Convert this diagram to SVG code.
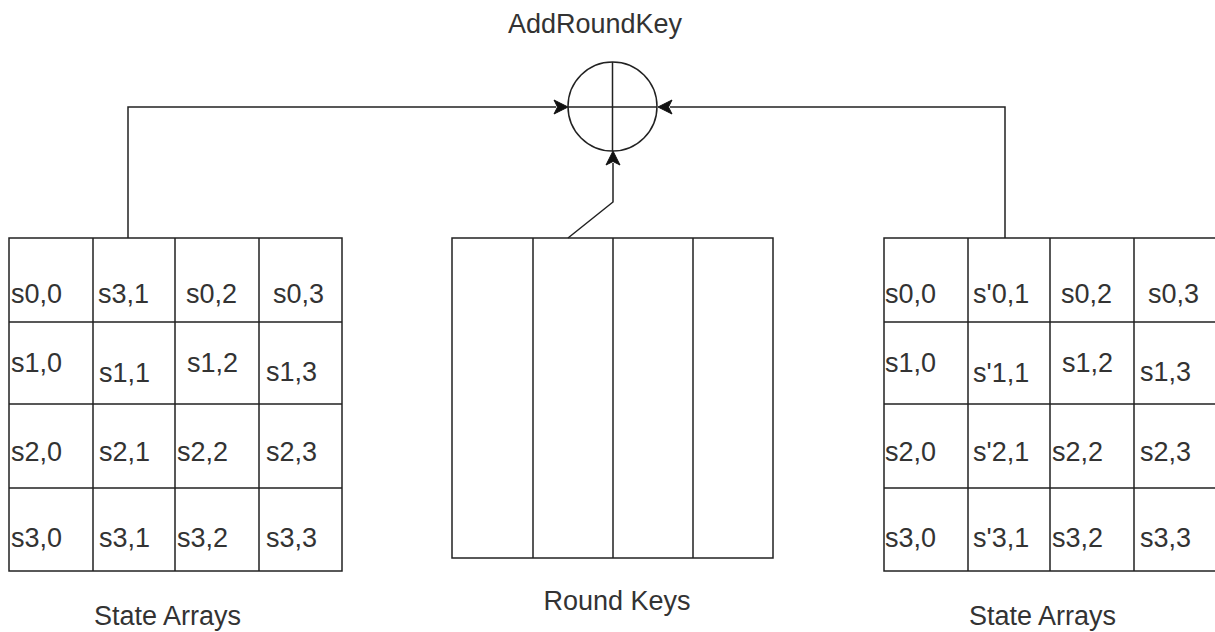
<svg xmlns="http://www.w3.org/2000/svg" width="1215" height="632" viewBox="0 0 1215 632">
<style>
.ln{fill:none;stroke:#222;stroke-width:1.5}
.ah{fill:#111;stroke:#111;stroke-width:1}
.t{font-family:"Liberation Sans",Arial,sans-serif;font-size:27px;fill:#333}
.c{text-anchor:middle}
</style>
<rect width="1215" height="632" fill="#fff"/>
<g id="connectors">
<path class="ln" d="M128,238 V107 H556"/>
<path class="ah" d="M568,107 L554,100 L557.5,107 L554,114 Z"/>
<path class="ln" d="M1005,238 V107 H670"/>
<path class="ah" d="M658,107 L672,100 L668.5,107 L672,114 Z"/>
<path class="ln" d="M568,238 L613,202 V163"/>
<path class="ah" d="M613,151 L606,165 L613,161.5 L620,165 Z"/>
</g>
<g id="addroundkey">
<circle class="ln" cx="612.5" cy="106.5" r="44.5"/>
<path class="ln" d="M612.5,62 V151 M568,107 H657"/>
<text class="t c" x="595" y="33">AddRoundKey</text>
</g>
<g id="state-left">
<rect class="ln" x="9" y="238" width="333" height="333"/>
<path class="ln" d="M93,238 V571 M175,238 V571 M259,238 V571 M9,322 H342 M9,404 H342 M9,488 H342"/>
<text class="t" x="11" y="303">s0,0</text>
<text class="t" x="98" y="303">s3,1</text>
<text class="t" x="186" y="303">s0,2</text>
<text class="t" x="273" y="303">s0,3</text>
<text class="t" x="11" y="372">s1,0</text>
<text class="t" x="99" y="382">s1,1</text>
<text class="t" x="187" y="372">s1,2</text>
<text class="t" x="266" y="381">s1,3</text>
<text class="t" x="11" y="461">s2,0</text>
<text class="t" x="99" y="461">s2,1</text>
<text class="t" x="177" y="461">s2,2</text>
<text class="t" x="266" y="461">s2,3</text>
<text class="t" x="11" y="547">s3,0</text>
<text class="t" x="99" y="547">s3,1</text>
<text class="t" x="177" y="547">s3,2</text>
<text class="t" x="266" y="547">s3,3</text>
<text class="t c" x="167.5" y="625">State Arrays</text>
</g>
<g id="round-keys">
<rect class="ln" x="452" y="238" width="321" height="320"/>
<path class="ln" d="M533,238 V558 M613,238 V558 M693,238 V558"/>
<text class="t c" x="617" y="610">Round Keys</text>
</g>
<g id="state-right">
<rect class="ln" x="884" y="238" width="333" height="333"/>
<path class="ln" d="M968,238 V571 M1050,238 V571 M1134,238 V571 M884,322 H1217 M884,404 H1217 M884,488 H1217"/>
<text class="t" x="885" y="303">s0,0</text>
<text class="t" x="973" y="303">s'0,1</text>
<text class="t" x="1061" y="303">s0,2</text>
<text class="t" x="1148" y="303">s0,3</text>
<text class="t" x="885" y="372">s1,0</text>
<text class="t" x="973" y="382">s'1,1</text>
<text class="t" x="1062" y="372">s1,2</text>
<text class="t" x="1140" y="381">s1,3</text>
<text class="t" x="885" y="461">s2,0</text>
<text class="t" x="973" y="461">s'2,1</text>
<text class="t" x="1052" y="461">s2,2</text>
<text class="t" x="1140" y="461">s2,3</text>
<text class="t" x="885" y="547">s3,0</text>
<text class="t" x="973" y="547">s'3,1</text>
<text class="t" x="1052" y="547">s3,2</text>
<text class="t" x="1140" y="547">s3,3</text>
<text class="t c" x="1042.5" y="625">State Arrays</text>
</g>
</svg>
